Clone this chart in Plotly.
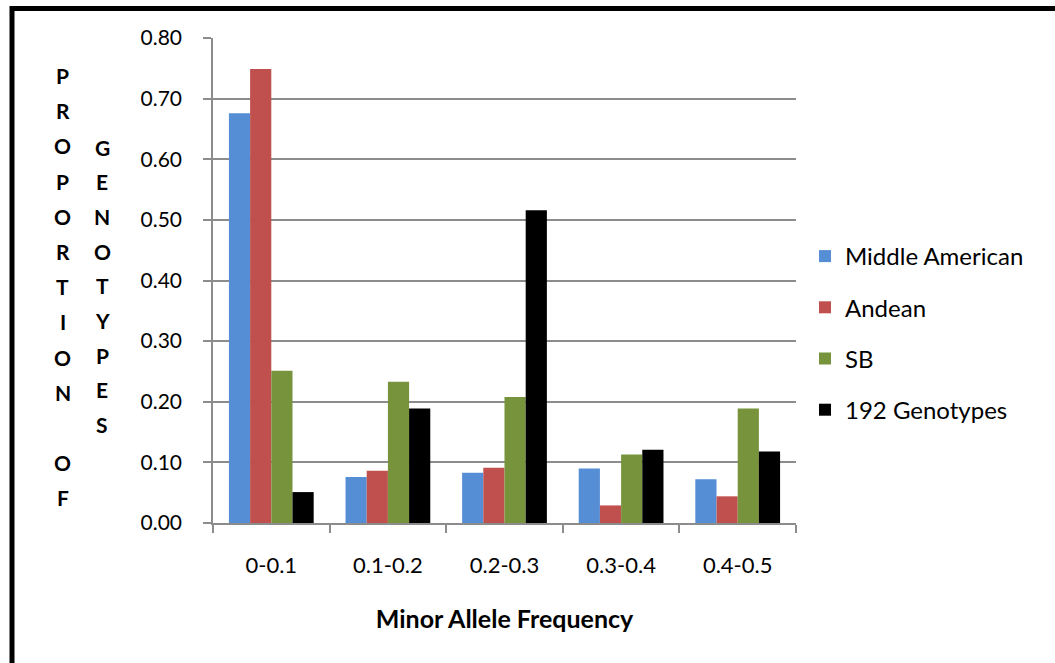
import plotly.graph_objects as go

# Minor allele frequency bins
categories = ["0-0.1", "0.1-0.2", "0.2-0.3", "0.3-0.4", "0.4-0.5"]

# Proportion of genotypes in each bin, per panel
middle_american = [0.676, 0.076, 0.083, 0.090, 0.072]
andean = [0.749, 0.086, 0.091, 0.029, 0.044]
sb = [0.251, 0.233, 0.208, 0.113, 0.189]
genotypes_192 = [0.051, 0.189, 0.516, 0.121, 0.118]

series = [
    ("Middle American", middle_american, "#558ED5"),
    ("Andean", andean, "#C0504D"),
    ("SB", sb, "#77933C"),
    ("192 Genotypes", genotypes_192, "#000000"),
]

W, H = 1055, 663
L, R, T, B = 213, 259, 38, 140
PW, PH = W - L - R, H - T - B


def px_x(x):
    return (x - L) / PW


def px_y(y):
    return (H - B - y) / PH


fig = go.Figure()
for i, (name, vals, color) in enumerate(series):
    fig.add_trace(go.Bar(
        x=categories, y=vals, name=name,
        marker=dict(color=color, line=dict(width=0)),
        legendgroup=f"g{i}",
    ))

font_main = "Lato, 'Open Sans', sans-serif"

fig.update_layout(
    width=W, height=H,
    margin=dict(l=L, r=R, t=T, b=B, autoexpand=False),
    paper_bgcolor="white", plot_bgcolor="white",
    barmode="group", bargap=0.273, bargroupgap=0,
    font=dict(family=font_main, size=20, color="black"),
    legend=dict(
        x=px_x(805), y=px_y(333), xanchor="left", yanchor="middle",
        font=dict(family=font_main, size=24, color="black"),
        tracegroupgap=17, bgcolor="rgba(0,0,0,0)",
    ),
    xaxis=dict(
        type="category", tickson="boundaries",
        showline=True, linecolor="#8c8c8c", linewidth=1.5,
        ticks="outside", ticklen=8, tickcolor="#8c8c8c", tickwidth=1.5,
        showgrid=False, tickfont=dict(size=22), ticklabelstandoff=22,
        title=dict(text="<b>Minor Allele Frequency</b>", standoff=33,
                   font=dict(size=25)),
    ),
    yaxis=dict(
        range=[0, 0.8], dtick=0.1, tickformat=".2f",
        showline=True, linecolor="#8c8c8c", linewidth=1.5,
        ticks="outside", ticklen=8, tickcolor="#8c8c8c", tickwidth=1.5,
        showgrid=True, gridcolor="#8c8c8c", gridwidth=1.5,
        zeroline=False, tickfont=dict(size=21), ticklabelstandoff=17,
    ),
)

# Vertical axis title, one letter per row in two columns
row_step = 35.2
left_word = "PROPORTION OF"
right_word = "GENOTYPES"
letter_font = dict(family=font_main, size=21, color="black")
for k, ch in enumerate(left_word):
    if ch.strip():
        fig.add_annotation(
            x=px_x(62.5), y=px_y(75.5 + k * row_step), xref="paper", yref="paper",
            xanchor="center", yanchor="middle",
            text=f"<b>{ch}</b>", showarrow=False, font=letter_font,
        )
for k, ch in enumerate(right_word):
    fig.add_annotation(
        x=px_x(102), y=px_y(147 + k * 34.7), xref="paper", yref="paper",
        xanchor="center", yanchor="middle",
        text=f"<b>{ch}</b>", showarrow=False, font=letter_font,
    )

# Outer frame
fig.add_shape(
    type="rect", xref="paper", yref="paper",
    x0=px_x(12), y0=px_y(700), x1=px_x(1100), y1=px_y(8.5),
    line=dict(color="black", width=5), fillcolor="rgba(0,0,0,0)", layer="above",
)

fig.write_html("out.html")
